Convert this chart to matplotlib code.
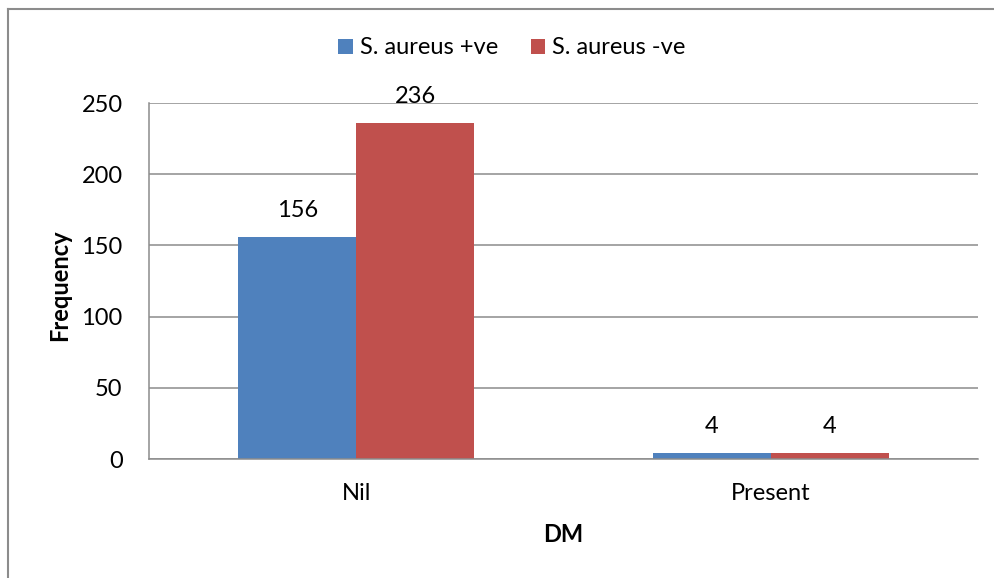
import numpy as np
import matplotlib.pyplot as plt
from matplotlib.lines import Line2D

plt.rcParams['font.family'] = ['Lato', 'DejaVu Sans']

categories = ['Nil', 'Present']
series_names = ['S. aureus +ve', 'S. aureus -ve']
pos_values = [156, 4]
neg_values = [236, 4]
colors = ['#4F81BD', '#C0504D']

fs = 17

fig = plt.figure(figsize=(9.95, 5.78), dpi=100)
ax = fig.add_axes([149 / 995, 1 - 459 / 578, (978 - 149) / 995, (459 - 103) / 578])

x = np.arange(len(categories))
w = 0.285
b1 = ax.bar(x - w / 2, pos_values, w, color=colors[0], label=series_names[0], zorder=3)
b2 = ax.bar(x + w / 2, neg_values, w, color=colors[1], label=series_names[1], zorder=3)

for bars, vals in ((b1, pos_values), (b2, neg_values)):
    for r, v in zip(bars, vals):
        ax.annotate(str(v), (r.get_x() + r.get_width() / 2, v), xytext=(0, 19),
                    textcoords='offset points', ha='center', va='center', fontsize=fs)

ax.set_xlim(-0.5, 1.5)
ax.set_ylim(0, 250)
ax.set_yticks(range(0, 251, 50))
ax.set_xticks(x)
ax.set_xticklabels(categories)
ax.tick_params(length=0, labelsize=fs, colors='black')
ax.tick_params(axis='y', pad=19)
ax.tick_params(axis='x', pad=17)
ax.grid(axis='y', color='#8c8c8c', linewidth=1.1, zorder=0)
for s in ('top', 'right'):
    ax.spines[s].set_visible(False)
for s in ('left', 'bottom'):
    ax.spines[s].set_color('#8c8c8c')
    ax.spines[s].set_linewidth(1.1)
ax.spines['bottom'].set_zorder(4)

fig.text(60 / 995, 1 - 285 / 578, 'Frequency', rotation=90, ha='center', va='center',
         fontsize=fs, fontweight='bold')
fig.text(563 / 995, 1 - 535 / 578, 'DM', ha='center', va='center',
         fontsize=fs, fontweight='bold')

fig.legend(handles=[b1, b2], loc='center', bbox_to_anchor=(512 / 995, 1 - 48 / 578),
           ncol=2, frameon=False, fontsize=fs, handlelength=0.6, handleheight=0.6,
           handletextpad=0.3, columnspacing=1.4)

fig.add_artist(Line2D([8 / 995, 8 / 995], [0, 1 - 9 / 578], color='#8c8c8c', linewidth=1.5))
fig.add_artist(Line2D([8 / 995, 1], [1 - 9 / 578, 1 - 9 / 578], color='#8c8c8c', linewidth=1.5))

fig.savefig('out.png', dpi=100)
